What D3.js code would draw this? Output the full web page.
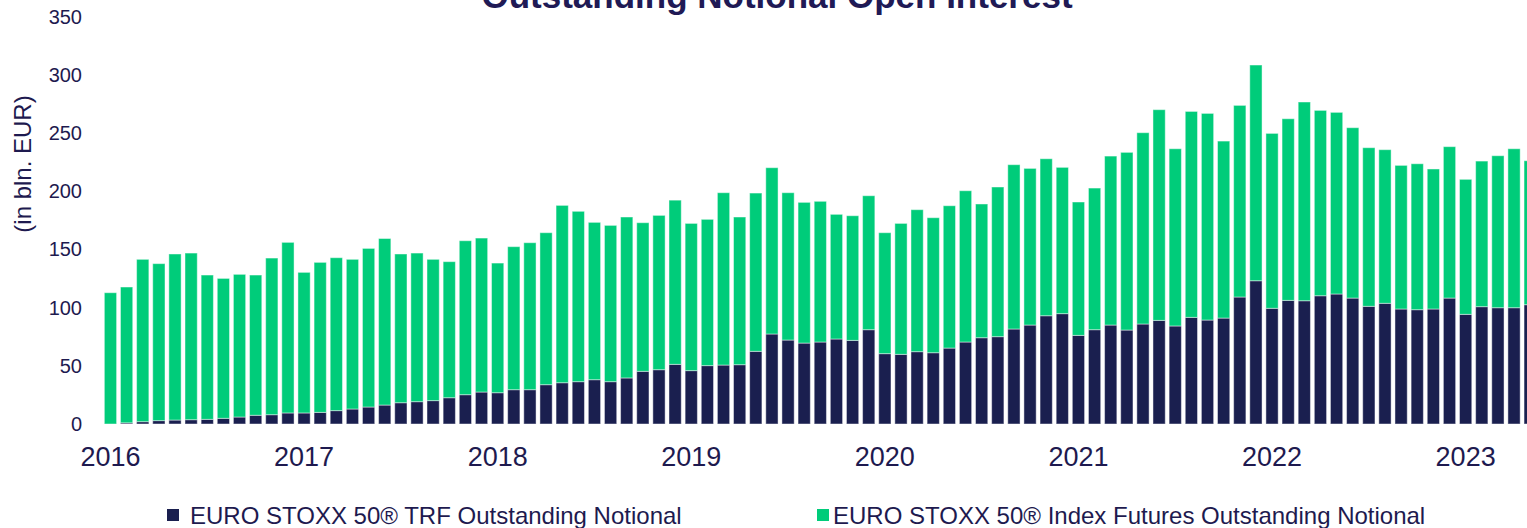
<!DOCTYPE html>
<html>
<head>
<meta charset="utf-8">
<script src="https://cdn.jsdelivr.net/npm/d3@7"></script>
<style>
  body { margin: 0; background: #fff; overflow: hidden; }
  text { font-family: "Liberation Sans", Arial, sans-serif; }
</style>
</head>
<body>
<div class="oi-chart"></div>
<script>
// Monthly data, Jan 2016 - May 2023 (in bln. EUR)
var months = d3.timeMonths(new Date(2016, 0, 1), new Date(2023, 5, 1));

var trfValues = [0, 1, 2, 2.9, 3.4, 3.7, 4, 4.9, 6, 7.5,
                 8, 9.5, 9.5, 10, 11.5, 12.9, 14.6, 16.3, 18.3, 19.2,
                 20.1, 22.6, 25.2, 27.5, 26.9, 29.5, 29.5, 33.8, 35.5, 36.4,
                 38.1, 36.4, 39.6, 45.3, 46.7, 51.3, 45.9, 50.2, 50.7, 51,
                 62.5, 77.4, 72.2, 69.6, 70.5, 73.1, 71.9, 81.1, 60.5, 59.9,
                 62.2, 61.3, 65.3, 70.5, 74.2, 75.1, 81.7, 85.1, 93.1, 94.9,
                 76.2, 81.1, 85.1, 80.8, 86, 89.1, 84.3, 91.7, 89.4, 91.1,
                 109.2, 123.2, 99.5, 106.3, 106, 110.3, 111.8, 108.3, 101.2, 103.8,
                 98.9, 98.3, 98.9, 108.3, 94.3, 100.9, 100, 100, 102.6];

var futuresValues = [112.9, 116.8, 139.6, 135.0, 142.8, 143.3, 124.1, 120.3, 122.7, 120.6,
                     134.7, 146.7, 120.9, 129.0, 131.5, 128.7, 136.4, 143.2, 127.9, 127.8,
                     121.5, 117.0, 132.4, 132.4, 111.5, 123.0, 126.4, 130.7, 152.5, 146.5,
                     135.3, 134.4, 138.4, 127.8, 132.7, 141.2, 126.6, 125.8, 148.2, 127.0,
                     136.1, 143.0, 126.7, 121.0, 121.0, 107.2, 107.2, 115.2, 104.0, 112.6,
                     122.1, 116.1, 122.4, 130.1, 115.0, 128.7, 141.3, 134.7, 135.0, 125.8,
                     114.7, 121.8, 145.3, 152.8, 164.5, 181.2, 152.4, 177.1, 177.7, 152.2,
                     164.8, 185.5, 150.4, 156.2, 170.9, 159.4, 156.2, 146.5, 136.4, 132.1,
                     123.5, 125.5, 120.4, 130.2, 116.1, 125.2, 130.7, 136.7, 123.8];

var yearLabels = ['2016', '2017', '2018', '2019', '2020', '2021', '2022', '2023'];
var yTicks = [0, 50, 100, 150, 200, 250, 300, 350];
var seriesKeys = ['trf', 'futures'];
var seriesNames = ['EURO STOXX 50® TRF Outstanding Notional',
                   'EURO STOXX 50® Index Futures Outstanding Notional'];

//Width and height
var width = 1527;
var height = 528;
var navy = '#1a1f4f';
var green = '#00cc7a';
var textColor = '#1e1a4f';

// Table for the stack layout
var table = months.map(function(m, i) {
  return { month: m, trf: trfValues[i], futures: futuresValues[i] };
});

var stacked = d3.stack().keys(seriesKeys)(table);

// Setting up scalers
var xScale = d3.scaleBand()
               .domain(d3.range(months.length))
               .range([102.4, 102.4 + months.length * 16.133])
               .paddingInner(0.24)
               .paddingOuter(0.12);

var yScale = d3.scaleLinear()
               .domain([0, 350])
               .range([424, 17]);

//Create SVG element
var svg = d3.select('.oi-chart')
            .append('svg')
            .attr('width', width)
            .attr('height', height);

//Title
svg.append('text')
   .attr('x', 777)
   .attr('y', 8)
   .attr('text-anchor', 'middle')
   .style('font-size', '35px')
   .style('font-weight', 'bold')
   .style('fill', '#201a55')
   .text('Outstanding Notional Open Interest');

//Drawing stacked bars
svg.selectAll('g.series')
   .data(stacked)
   .enter()
   .append('g')
   .attr('class', 'series')
   .style('fill', function(d, i) { return i === 0 ? navy : green; })
   .selectAll('rect')
   .data(function(d) { return d; })
   .enter()
   .append('rect')
   .attr('x', function(d, i) { return xScale(i); })
   .attr('y', function(d) { return yScale(d[1]); })
   .attr('width', xScale.bandwidth())
   .attr('height', function(d) { return yScale(d[0]) - yScale(d[1]); })
   .style('stroke', '#fff')
   .style('stroke-opacity', 0.45)
   .style('stroke-width', 1);

// Setting up axis
var januaries = d3.range(months.length).filter(function(i) { return months[i].getMonth() === 0; });

var xAxis = d3.axisBottom(xScale)
              .tickValues(januaries)
              .tickSize(0)
              .tickPadding(23)
              .tickFormat(function(d, i) { return yearLabels[i]; });

var yAxis = d3.axisLeft(yScale)
              .tickValues(yTicks)
              .tickSize(0)
              .tickPadding(8);

var gx = svg.append('g')
            .attr('transform', 'translate(0,' + yScale(0) + ')')
            .call(xAxis);

var gy = svg.append('g')
            .attr('transform', 'translate(90,0)')
            .call(yAxis);

[gx, gy].forEach(function(g) {
  g.select('.domain').remove();
  g.selectAll('text')
   .style('font-family', '"Liberation Sans", Arial, sans-serif')
   .style('fill', textColor);
});
gx.selectAll('text').style('font-size', '27px');
gy.selectAll('text').style('font-size', '20px');

//Y axis title
svg.append('text')
   .attr('transform', 'translate(31,164) rotate(-90)')
   .attr('text-anchor', 'middle')
   .style('font-size', '24px')
   .style('fill', textColor)
   .text('(in bln. EUR)');

//Legend
var legendX = [167, 817];
var legendTextX = [190, 833];
var legend = svg.selectAll('g.legend')
                .data(seriesNames)
                .enter()
                .append('g')
                .attr('class', 'legend');

legend.append('rect')
      .attr('x', function(d, i) { return legendX[i]; })
      .attr('y', 509)
      .attr('width', 12)
      .attr('height', 12)
      .style('fill', function(d, i) { return i === 0 ? navy : green; });

legend.append('text')
      .attr('x', function(d, i) { return legendTextX[i]; })
      .attr('y', 524)
      .style('font-size', '24px')
      .style('fill', textColor)
      .text(function(d) { return d; });
</script>
</body>
</html>
